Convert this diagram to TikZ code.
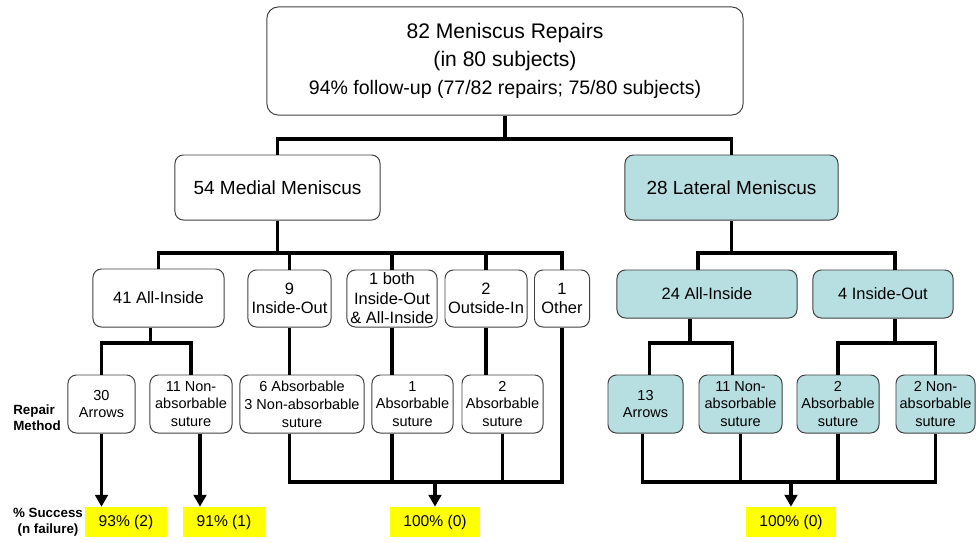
\documentclass[tikz,border=0pt]{standalone}
\usepackage{fontspec}
\setmainfont{Liberation Sans}
\usepackage{tikz}
\usetikzlibrary{arrows.meta,calc}
\definecolor{boxline}{HTML}{404040}
\definecolor{paleteal}{HTML}{B7DEE0}
\definecolor{hiyellow}{HTML}{FFFF00}

\begin{document}
\begin{tikzpicture}[x=0.025cm,y=-0.025cm,
  box/.style={draw=boxline,line width=0.7pt,rounded corners=6pt,align=center,inner sep=1pt},
  lvlone/.style={box,font=\fontsize{13.5}{16}\selectfont,minimum height=1.625cm},
  lvltwo/.style={box,font=\fontsize{11.7}{13.9}\selectfont},
  lvlthree/.style={box,inner sep=0pt,font=\fontsize{10.3}{12.7}\selectfont,minimum height=1.45cm},
  lat/.style={fill=paleteal},
  pct/.style={fill=hiyellow,inner sep=0pt,minimum height=0.75cm,font=\fontsize{11.1}{13}\selectfont},
  lbl/.style={align=center,inner sep=0pt,font=\bfseries\fontsize{9.5}{11.5}\selectfont},
  conn/.style={line width=2.8pt,black},
  arr/.style={conn,-{Triangle[width=9pt,length=8.5pt]}}]
\useasboundingbox (0,0) rectangle (976,542);
\coordinate (y1) at (0,139);
\coordinate (y2) at (0,253);
\coordinate (y3) at (0,343);
\coordinate (y4) at (0,482);
% top and the two menisci
\node[box,rounded corners=8pt,minimum width=11.9cm,minimum height=2.7cm,font=\fontsize{15}{20}\selectfont] (top) at (505,61) {82 Meniscus Repairs\\(in 80 subjects)\\{\fontsize{13.9}{20}\selectfont 94\% follow-up (77/82 repairs; 75/80 subjects)}};
\node[lvlone,minimum width=5.125cm] (med) at (277.5,187.5) {54 Medial Meniscus};
\node[lvlone,lat,minimum width=5.325cm] (lm) at (731.5,187.5) {28 Lateral Meniscus};
% medial techniques
\node[lvltwo,minimum width=3.275cm,minimum height=1.45cm] (m1) at (158.5,298) {41 All-Inside};
\node[lvltwo,minimum width=2.075cm,minimum height=1.425cm] (m2) at (289.5,298.5) {9\\Inside-Out};
\node[lvltwo,minimum width=2.25cm,minimum height=1.425cm] (m3) at (392,298.5) {1 both\\Inside-Out\\\& All-Inside};
\node[lvltwo,minimum width=2.05cm,minimum height=1.425cm] (m4) at (486,298.5) {2\\Outside-In};
\node[lvltwo,minimum width=1.375cm,minimum height=1.425cm] (m5) at (562,298.5) {1\\Other};
% lateral techniques
\node[lvltwo,lat,minimum width=4.5cm,minimum height=1.2cm] (l1) at (707,294) {24 All-Inside};
\node[lvltwo,lat,minimum width=3.5cm,minimum height=1.2cm] (l2) at (883,294) {4 Inside-Out};
% repair methods
\node[lvlthree,minimum width=1.675cm] (r1) at (101.5,404) {30\\Arrows};
\node[lvlthree,minimum width=2.05cm] (r2) at (191,404) {11 Non-\\absorbable\\suture};
\node[lvlthree,minimum width=3.1cm] (r3) at (302,404) {6 Absorbable\\3 Non-absorbable\\suture};
\node[lvlthree,minimum width=2.025cm] (r4) at (412.5,404) {1\\Absorbable\\suture};
\node[lvlthree,minimum width=2.025cm] (r5) at (502.5,404) {2\\Absorbable\\suture};
\node[lvlthree,lat,minimum width=1.875cm] (r6) at (645.5,404) {13\\Arrows};
\node[lvlthree,lat,minimum width=2.075cm] (r7) at (740.5,404) {11 Non-\\absorbable\\suture};
\node[lvlthree,lat,minimum width=2.05cm] (r8) at (838,404) {2\\Absorbable\\suture};
\node[lvlthree,lat,minimum width=1.975cm] (r9) at (935.5,404) {2 Non-\\absorbable\\suture};
% success rates
\node[pct,minimum width=2.05cm] (p1) at (126,522) {93\% (2)};
\node[pct,minimum width=2.05cm] (p2) at (224,522) {91\% (1)};
\node[pct,minimum width=2.25cm] (p3) at (435,522) {100\% (0)};
\node[pct,minimum width=2.25cm] (p4) at (791,522) {100\% (0)};
% row labels
\node[lbl,align=left,anchor=west] (rm) at (13,418) {Repair\\Method};
\node[lbl] (ps) at (48,522) {\% Success\\(n failure)};
% connectors
\draw[conn] (top.south) -- (top.south |- y1);
\draw[conn] (med.north) |- (lm.north |- y1) -- (lm.north);
\draw[conn] (med.south) -- (med.south |- y2);
\draw[conn] (m1.north) |- (m5.north |- y2) -- (m5.north);
\foreach \n in {m2,m3,m4}
  \draw[conn] (\n.north) -- (\n.north |- y2);
\draw[conn] (lm.south) -- (lm.south |- y2);
\draw[conn] ($(l1.north)+(-9,0)$) |- ($(l2.north |- y2)+(12,0)$) -- ($(l2.north)+(12,0)$);
\draw[conn] ($(m1.south)+(-8,0)$) -- ($(m1.south |- y3)+(-8,0)$);
\draw[conn] (r1.north) |- (r2.north |- y3) -- (r2.north);
\draw[conn] (m2.south) -- (m2.south |- r3.north);
\draw[conn] (m3.south) -- (m3.south |- r4.north);
\draw[conn] (m4.south) -- (m4.south |- r5.north);
\draw[conn] ($(l1.south)+(-17,0)$) -- ($(l1.south |- y3)+(-17,0)$);
\draw[conn] ($(r6.north)+(4,0)$) |- ($(r7.north |- y3)+(-8,0)$) -- ($(r7.north)+(-8,0)$);
\draw[conn] ($(l2.south)+(12,0)$) -- ($(l2.south |- y3)+(12,0)$);
\draw[conn] (r8.north) |- (r9.north |- y3) -- (r9.north);
\draw[conn] (r3.south -| m2.south) |- (m5.south |- y4) -- (m5.south);
\draw[conn] (r4.south -| m3.south) -- (m3.south |- y4);
\draw[conn] (r5.south) -- (r5.south |- y4);
\draw[conn] ($(r6.south)+(-3,0)$) |- (r9.south |- y4) -- (r9.south);
\draw[conn] (r7.south) -- (r7.south |- y4);
\draw[conn] (r8.south) -- (r8.south |- y4);
\draw[arr] (r1.south) -- (r1.south |- p1.north);
\draw[arr] ($(r2.south)+(9,0)$) -- ($(r2.south |- p2.north)+(9,0)$);
\draw[arr] (p3.north |- y4) -- (p3.north);
\draw[arr] (p4.north |- y4) -- (p4.north);
\end{tikzpicture}
\end{document}
